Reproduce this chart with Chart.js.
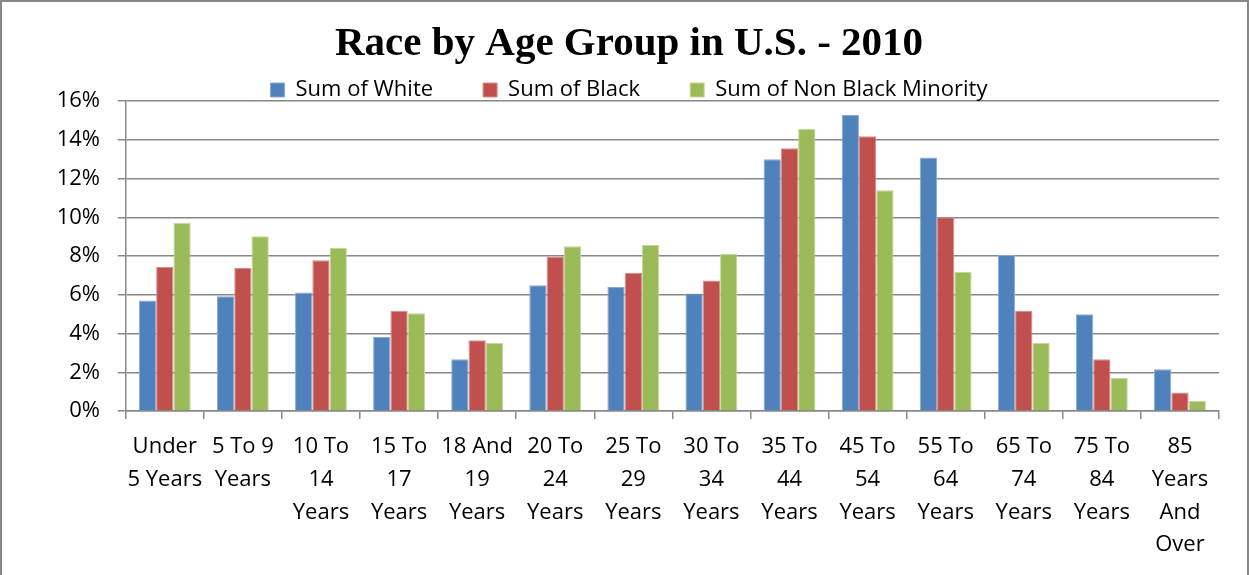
<!DOCTYPE html>
<html>
<head>
<meta charset="utf-8">
<title>Race by Age Group in U.S. - 2010</title>
<script src="https://cdn.jsdelivr.net/npm/chart.js@4/dist/chart.umd.min.js"></script>
<style>
  body { margin: 0; background: #fff; }
  #wrap { position: relative; width: 1249px; height: 575px; }
  #frame { position: absolute; left: 0; top: 0; width: 1249px; height: 575px; box-sizing: border-box;
           border: 2px solid #878787; border-bottom: none; pointer-events: none; }
</style>
</head>
<body>
<div id="wrap">
  <canvas id="race-chart" width="1249" height="575"></canvas>
  <div id="frame"></div>
</div>
<script>
// age groups, each label split into the lines it wraps to
const ageGroups = [
  ["Under", "5 Years"], ["5 To 9", "Years"], ["10 To", "14", "Years"], ["15 To", "17", "Years"],
  ["18 And", "19", "Years"], ["20 To", "24", "Years"], ["25 To", "29", "Years"], ["30 To", "34", "Years"],
  ["35 To", "44", "Years"], ["45 To", "54", "Years"], ["55 To", "64", "Years"], ["65 To", "74", "Years"],
  ["75 To", "84", "Years"], ["85", "Years", "And", "Over"]
];

// percent of each group
const sumWhite = [5.71, 5.92, 6.12, 3.82, 2.67, 6.49, 6.40, 6.07, 12.99, 15.28, 13.08, 8.05, 4.99, 2.15];
const sumBlack = [7.43, 7.38, 7.78, 5.18, 3.65, 7.98, 7.14, 6.73, 13.56, 14.18, 10.00, 5.16, 2.67, 0.95];
const sumNonBlackMinority = [9.72, 9.02, 8.43, 5.04, 3.51, 8.50, 8.57, 8.12, 14.55, 11.39, 7.19, 3.51, 1.70, 0.52];

const yTicks = [0, 2, 4, 6, 8, 10, 12, 14, 16];

const gridGray = '#888888';
const labelFont = { family: '"Open Sans", sans-serif', size: 22 };

function makeSet(label, values, fill, edge) {
  return {
    label: label,
    data: values,
    backgroundColor: fill,
    borderColor: edge,
    borderWidth: 1,
    categoryPercentage: 0.664,
    barPercentage: 1.0
  };
}

const ctx = document.querySelector('#race-chart').getContext('2d');

new Chart(ctx, {
  type: 'bar',
  data: {
    labels: ageGroups,
    datasets: [
      makeSet('Sum of White', sumWhite, '#4F81BD', '#8AAAD4'),
      makeSet('Sum of Black', sumBlack, '#C0504D', '#D88C8A'),
      makeSet('Sum of Non Black Minority', sumNonBlackMinority, '#9BBB59', '#C3D89A')
    ]
  },
  options: {
    responsive: false,
    animation: false,
    devicePixelRatio: 1,
    layout: { padding: { left: 39, right: 30, top: 0, bottom: 2 } },
    plugins: {
      title: {
        display: true,
        text: 'Race by Age Group in U.S. - 2010',
        color: '#000',
        font: { family: '"Liberation Serif", "Times New Roman", serif', size: 41, weight: 'bold', lineHeight: 1.2 },
        padding: { top: 19.4, bottom: -39.6 }   // negative so the legend can sit right under it
      },
      legend: {
        display: true,
        position: 'top',
        maxHeight: 72,   // clamp so the plot starts just under the legend row
        labels: {
          color: '#000',
          font: labelFont,
          boxWidth: 14,
          boxHeight: 14,
          padding: 50
        }
      },
      tooltip: { enabled: false }
    },
    scales: {
      x: {
        grid: {
          display: true,
          drawOnChartArea: false,
          drawTicks: true,
          tickLength: 8,
          color: gridGray,
          lineWidth: 1.5
        },
        border: { display: true, color: gridGray, width: 1.5 },
        ticks: {
          color: '#000',
          font: { family: '"Open Sans", sans-serif', size: 22, lineHeight: 1.486 },
          padding: 11.6,
          autoSkip: false,
          maxRotation: 0,
          minRotation: 0
        }
      },
      y: {
        min: yTicks[0],
        max: yTicks[yTicks.length - 1],
        afterBuildTicks: function(scale) {
          scale.ticks = yTicks.map(v => ({ value: v }));
        },
        grid: {
          color: gridGray,
          lineWidth: 1.5,
          tickLength: 8
        },
        border: { display: true, color: gridGray, width: 1.5 },
        ticks: {
          color: '#000',
          font: { family: '"Open Sans", sans-serif', size: 22 },
          padding: 17.7,
          callback: v => v + '%'
        }
      }
    }
  }
});
</script>
</body>
</html>
